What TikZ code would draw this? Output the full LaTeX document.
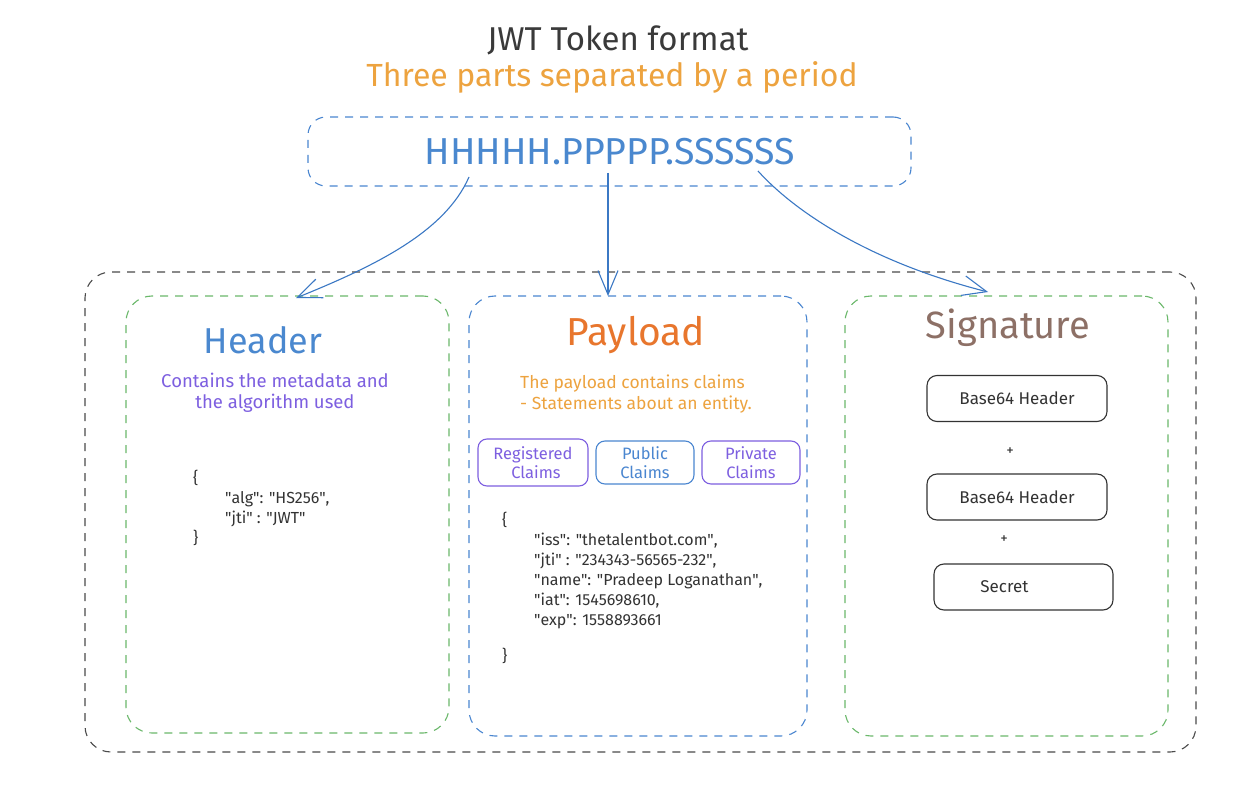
\documentclass[tikz,border=0pt]{standalone}
\usepackage{fontspec}
\setmainfont{Fira Sans}
\usetikzlibrary{arrows.meta}
\newcommand{\jq}{\textquotedbl}
\definecolor{titlegray}{HTML}{3A3A3A}
\definecolor{sorange}{HTML}{EDA33F}
\definecolor{porange}{HTML}{E8762D}
\definecolor{tblue}{HTML}{4A88CF}
\definecolor{lblue}{HTML}{4A86D0}
\definecolor{arrblue}{HTML}{3B78C4}
\definecolor{purp}{HTML}{7D5FE0}
\definecolor{brownish}{HTML}{8D7066}
\definecolor{dgreen}{HTML}{6AB86A}
\definecolor{outergray}{HTML}{4A4A4A}
\definecolor{boxgray}{HTML}{333333}
\begin{document}
\begin{tikzpicture}[x=1pt,y=-1pt,
  dashedbox/.style={draw, dash pattern=on 8pt off 7pt, line width=1.1pt, rounded corners=26pt, inner sep=0pt},
  claimbox/.style={draw, line width=1.1pt, rounded corners=9pt, inner sep=0pt, align=center, font=\fontsize{16.5}{19}\selectfont},
  sigbox/.style={draw=boxgray, line width=1.1pt, rounded corners=10pt, inner sep=0pt, minimum width=180pt, minimum height=46pt, font=\fontsize{17}{20}\selectfont, text=boxgray},
  txt/.style={inner sep=0pt},
  jwtarrow/.style={draw=arrblue, line width=1.1pt, -{Straight Barb[length=24pt,width=20pt,line width=1.1pt]}}
]
\fill[white] (0,0) rectangle (1253,794);
\useasboundingbox (0,0) rectangle (1253,794);

% titles
\node[txt, text=titlegray, font=\fontsize{33}{36}\selectfont] (title) at (618,40) {JWT Token format};
\node[txt, text=sorange, font=\fontsize{32}{36}\selectfont] (subtitle) at (612,77) {Three parts separated by a period};

% token
\node[dashedbox, draw=lblue, rounded corners=18pt, minimum width=603pt, minimum height=69pt] (tokbox) at (609.5,151.5) {};
\node[txt, text=tblue, font=\fontsize{37.5}{40}\selectfont] (tok) at (610,152) {HHHHH.PPPPP.SSSSSS};

% outer container
\node[dashedbox, draw=outergray, minimum width=1111pt, minimum height=480pt] (outer) at (640.5,512) {};

% three panels
\node[dashedbox, draw=dgreen, minimum width=323pt, minimum height=437pt] (hdrbox) at (287.5,514.5) {};
\node[dashedbox, draw=lblue, minimum width=338pt, minimum height=440pt] (paybox) at (638,516) {};
\node[dashedbox, draw=dgreen, minimum width=323pt, minimum height=440pt] (sigbox) at (1006.5,516) {};

% Header panel
\node[txt, text=tblue, font=\fontsize{36}{40}\selectfont] (hdrtitle) at (263,340) {Header};
\node[txt, text=purp, font=\fontsize{18.5}{21}\selectfont, align=center] (hdrdesc) at (275,393) {Contains the metadata and\\the algorithm used};
\node[txt, anchor=west, text=boxgray, font=\fontsize{16}{20}\selectfont, align=left] (hdrjson) at (193,508)
  {\{\\\hspace*{32pt}\jq alg\jq: \jq HS256\jq,\\\hspace*{32pt}\jq jti\jq{} : \jq JWT\jq\\\}};

% Payload panel
\node[txt, text=porange, font=\fontsize{39}{42}\selectfont] (paytitle) at (636,335) {Payload};
\node[txt, anchor=west, text=sorange, font=\fontsize{17.5}{21}\selectfont, align=left] (paydesc) at (520,394) {The payload contains claims\\- Statements about an entity.};
\node[claimbox, draw=purp, text=purp, minimum width=110pt, minimum height=47pt] (reg) at (533,462.5) {Registered\\\hspace*{6pt}Claims};
\node[claimbox, draw=lblue, text=lblue, minimum width=98pt, minimum height=43pt] (pub) at (645,462.5) {Public\\Claims};
\node[claimbox, draw=purp, text=purp, minimum width=98pt, minimum height=43pt] (priv) at (751,462.5) {Private\\Claims};
\node[txt, anchor=north west, text=boxgray, font=\fontsize{16}{20}\selectfont, align=left] (payjson) at (502,512)
  {\{\\
   \hspace*{32pt}\jq iss\jq: \jq thetalentbot.com\jq,\\
   \hspace*{32pt}\jq jti\jq{} : \jq 234343-56565-232\jq,\\
   \hspace*{32pt}\jq name\jq: \jq Pradeep Loganathan\jq,\\
   \hspace*{32pt}\jq iat\jq: 1545698610,\\
   \hspace*{32pt}\jq exp\jq: 1558893661\\[16pt]
   \}};

% Signature panel
\node[txt, text=brownish, font=\fontsize{38}{42}\selectfont] (sigtitle) at (1008,328) {Signature};
\node[sigbox] (b64h1) at (1017,398.5) {Base64 Header};
\node[txt, text=boxgray, font=\fontsize{15}{17}\selectfont] (plus1) at (1010,452) {+};
\node[sigbox] (b64h2) at (1017,497) {Base64 Header};
\node[txt, text=boxgray, font=\fontsize{15}{17}\selectfont] (plus2) at (1004,540) {+};
\node[sigbox, minimum width=179pt] (secret) at (1023.5,587) {Secret\hspace*{38pt}};

% arrows
\coordinate (a1s) at (469,177);
\coordinate (a1e) at (296,298);
\coordinate (a2s) at (608,173);
\coordinate (a2e) at (608,296);
\coordinate (a3s) at (758,171);
\coordinate (a3e) at (988,292);
\draw[jwtarrow] (a1s) .. controls (445,232) and (375,266) .. (a1e);
\draw[jwtarrow] (a2s) -- (a2e);
\draw[jwtarrow] (a3s) .. controls (795,212) and (870,262) .. (a3e);
\end{tikzpicture}
\end{document}
